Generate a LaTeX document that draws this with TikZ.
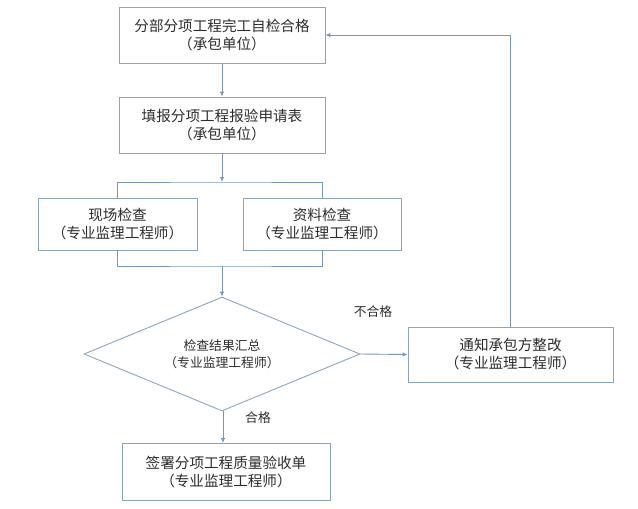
\documentclass[tikz,border=0pt]{standalone}
\usepackage{fontspec}
\setmainfont{Noto Sans CJK SC}
\usetikzlibrary{shapes.geometric,arrows.meta}
\definecolor{edge}{RGB}{140,165,188}
\definecolor{arrowc}{RGB}{120,152,185}
\definecolor{txt}{RGB}{45,45,45}
\tikzset{
  x=1pt,y=-1pt,
  box/.style={draw=edge,line width=0.9pt,fill=white,inner sep=0pt,align=center,text=txt,
    font=\fontsize{14.6}{18}\selectfont},
  decision/.style={diamond,aspect=2.42,draw=edge,line width=0.9pt,inner sep=0pt,align=center,text=txt,
    minimum width=276pt,minimum height=114pt,font=\fontsize{12.8}{17}\selectfont},
  arr/.style={draw=arrowc,line width=0.9pt,-{Latex[length=5pt,width=4.5pt]}},
  ln/.style={draw=arrowc,line width=0.9pt},
  lab/.style={text=txt,font=\fontsize{12.8}{15}\selectfont,inner sep=0pt}
}
\begin{document}
\begin{tikzpicture}
\useasboundingbox (0,0) rectangle (638,509);
\node[box,minimum width=206pt,minimum height=56pt] (b1) at (222,35) {分部分项工程完工自检合格\\（承包单位）};
\node[box,minimum width=206pt,minimum height=56pt] (b2) at (222,125) {填报分项工程报验申请表\\（承包单位）};
\node[box,minimum width=159pt,minimum height=52pt] (b3) at (117.5,224) {现场检查\\（专业监理工程师）};
\node[box,minimum width=158pt,minimum height=52pt] (b4) at (322,224) {资料检查\\（专业监理工程师）};
\node[decision] (d) at (222,354) {检查结果汇总\\（专业监理工程师）};
\node[box,minimum width=205pt,minimum height=55pt] (b5) at (510.5,354.5) {通知承包方整改\\（专业监理工程师）};
\node[box,minimum width=208pt,minimum height=57pt] (b6) at (226,472) {签署分项工程质量验收单\\（专业监理工程师）};
\coordinate (j1) at (222,182);
\coordinate (j2) at (222,266);
\coordinate (j3) at (223,411);
\draw[arr] (b1.south) -- (b2.north);
\draw[arr] (b2.south) -- (j1);
\draw[ln] (b3.north) |- (j1) -| (b4.north);
\draw[ln] (b3.south) |- (j2) -| (b4.south);
\draw[arr] (j2) -- (d.north);
\draw[arr] (d.east) -- (b5.west);
\draw[arr] (b5.north) |- (b1.east);
\draw[arr] (j3) -- (b6.north -| j3);
\node[lab] (l1) at (373,312) {不合格};
\node[lab] (l2) at (258,418) {合格};
\end{tikzpicture}
\end{document}
